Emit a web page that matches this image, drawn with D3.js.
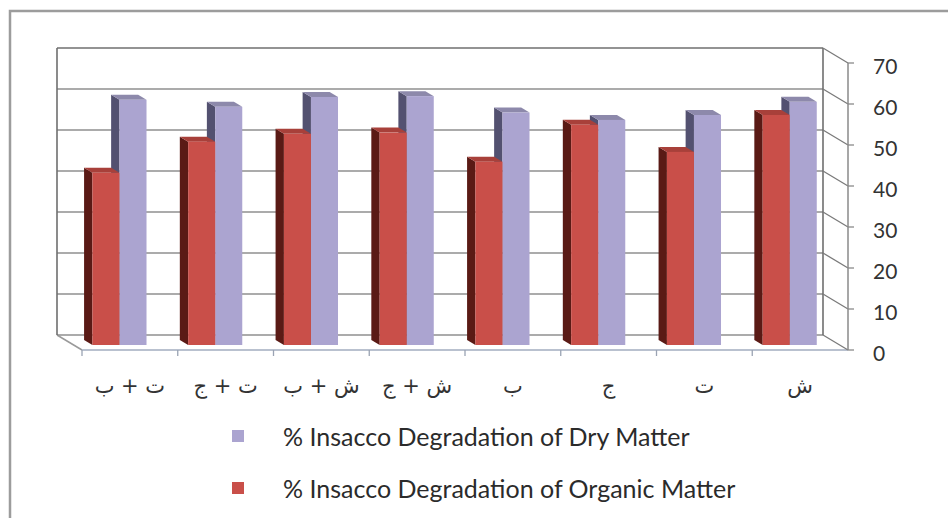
<!DOCTYPE html>
<html>
<head>
<meta charset="utf-8">
<script src="https://cdnjs.cloudflare.com/ajax/libs/d3/7.8.5/d3.min.js"></script>
<style>
  body { margin: 0; background: #ffffff; }
  svg { display: block; }
</style>
</head>
<body>
<svg id="chart" width="948" height="518"></svg>
<script>
// Treatments (category axis, Arabic labels)
const categories = ["ت + ب", "ت + ج", "ش + ب", "ش + ج", "ب", "ج", "ت", "ش"];
// % in-sacco degradation of dry matter
const dryMatter = [59.8, 58.1, 60.5, 60.7, 56.7, 54.9, 56.1, 59.3];
// % in-sacco degradation of organic matter
const organicMatter = [42.0, 49.6, 51.5, 51.8, 44.7, 53.7, 47.1, 56.1];
// Value axis ticks
const yTicks = [0, 10, 20, 30, 40, 50, 60, 70];
// Legend entries
const seriesNames = [
  "% Insacco Degradation of Dry Matter",
  "% Insacco Degradation of Organic Matter"
];

const svg = d3.select("#chart");

// Back wall extent and the oblique depth vector of the 3D box
const wall = { left: 57, right: 823, top: 48, bottom: 335 };
const depth = { dx: 25, dy: 15 };

const xCat = d3.scaleBand().domain(categories).range([wall.left, wall.right]);
const xSeries = d3.scaleBand().domain(["organic", "dry"])
  .range([0, xCat.bandwidth()]).paddingOuter(0.77).align(0.45);
const y = d3.scaleLinear().domain([0, 70]).range([wall.bottom, wall.top]);

// Project a point (x on the back wall, value, depth 0..1) onto the page
const proj = (X, v, z) => [X + z * depth.dx, y(v) + z * depth.dy];
const pts = arr => arr.map(p => p.join(",")).join(" ");

// Outer frame
svg.append("rect")
  .attr("x", 10).attr("y", 11).attr("width", 960).attr("height", 530)
  .attr("fill", "#ffffff").attr("stroke", "#9c9c9c").attr("stroke-width", 2.5);

const plot = svg.append("g");

// Floor
plot.append("polygon")
  .attr("points", pts([proj(wall.left, 0, 0), proj(wall.right, 0, 0),
                       proj(wall.right, 0, 1), proj(wall.left, 0, 1)]))
  .attr("fill", "#ffffff").attr("stroke", "none");
plot.append("line")
  .attr("x1", proj(wall.left, 0, 0)[0]).attr("y1", proj(wall.left, 0, 0)[1])
  .attr("x2", proj(wall.left, 0, 1)[0]).attr("y2", proj(wall.left, 0, 1)[1])
  .attr("stroke", "#9a9a9a").attr("stroke-width", 1.5);
plot.append("line")
  .attr("x1", proj(wall.left, 0, 1)[0]).attr("y1", proj(wall.left, 0, 1)[1])
  .attr("x2", proj(wall.right, 0, 1)[0]).attr("y2", proj(wall.right, 0, 1)[1])
  .attr("stroke", "#b9c1cf").attr("stroke-width", 2);

// Back wall gridlines
plot.selectAll("line.grid").data(yTicks).join("line")
  .attr("class", "grid")
  .attr("x1", wall.left).attr("x2", wall.right)
  .attr("y1", d => y(d)).attr("y2", d => y(d))
  .attr("stroke", d => d === 70 ? "#6f6f6f" : "#8f8f8f")
  .attr("stroke-width", 1.6);

// Back wall edges
plot.append("line")
  .attr("x1", wall.left).attr("x2", wall.left).attr("y1", y(70)).attr("y2", y(0))
  .attr("stroke", "#6f6f6f").attr("stroke-width", 1.6);
plot.append("line")
  .attr("x1", wall.right).attr("x2", wall.right).attr("y1", y(70)).attr("y2", y(0))
  .attr("stroke", "#6f6f6f").attr("stroke-width", 1.6);

// Side-wall gridlines running forward to the value axis
plot.selectAll("line.side").data(yTicks).join("line")
  .attr("class", "side")
  .attr("x1", d => proj(wall.right, d, 0)[0]).attr("y1", d => proj(wall.right, d, 0)[1])
  .attr("x2", d => proj(wall.right, d, 1)[0]).attr("y2", d => proj(wall.right, d, 1)[1])
  .attr("stroke", "#7a7a7a").attr("stroke-width", 1.3);

// Value axis line, ticks and labels
const axisX = proj(wall.right, 0, 1)[0];
plot.append("line")
  .attr("x1", axisX).attr("x2", axisX)
  .attr("y1", proj(wall.right, 70, 1)[1]).attr("y2", proj(wall.right, 0, 1)[1])
  .attr("stroke", "#8a8a8a").attr("stroke-width", 1.5);
plot.selectAll("line.ytick").data(yTicks).join("line")
  .attr("class", "ytick")
  .attr("x1", axisX).attr("x2", axisX + 6)
  .attr("y1", d => proj(wall.right, d, 1)[1]).attr("y2", d => proj(wall.right, d, 1)[1])
  .attr("stroke", "#8a8a8a").attr("stroke-width", 1.3);
plot.selectAll("text.ylab").data(yTicks).join("text")
  .attr("class", "ylab")
  .attr("x", axisX + 25)
  .attr("y", d => proj(wall.right, d, 1)[1] + 2)
  .attr("dominant-baseline", "central")
  .attr("font-family", "Lato, 'Open Sans', sans-serif")
  .attr("font-size", 21)
  .attr("fill", "#333333")
  .text(d => d);

// Category ticks along the front edge of the floor
const boundaries = categories.map(c => xCat(c));
plot.selectAll("line.xtick").data(boundaries).join("line")
  .attr("class", "xtick")
  .attr("x1", d => proj(d, 0, 1)[0]).attr("x2", d => proj(d, 0, 1)[0])
  .attr("y1", proj(0, 0, 1)[1]).attr("y2", proj(0, 0, 1)[1] + 6)
  .attr("stroke", "#9aa3b3").attr("stroke-width", 1.3);

// Category labels
plot.selectAll("text.xlab").data(categories).join("text")
  .attr("class", "xlab")
  .attr("x", d => proj(xCat(d) + xCat.bandwidth() / 2, 0, 1)[0])
  .attr("y", 393)
  .attr("text-anchor", "middle")
  .attr("font-family", "'DejaVu Sans', sans-serif")
  .attr("font-size", 21)
  .attr("fill", "#333333")
  .text(d => d);

// 3D columns: front, left side and top faces
const styles = {
  dry:     { front: "#aba4d0", side: "#535170", top: "#8d89ab" },
  organic: { front: "#c94f49", side: "#5a1a15", top: "#a8403a" }
};
const z0 = 1 / 3, z1 = 2 / 3;

function drawSeries(key, values) {
  const s = styles[key];
  const g = plot.append("g");
  const bars = categories.map((c, i) => ({ X0: xCat(c) + xSeries(key), X1: xCat(c) + xSeries(key) + xSeries.bandwidth(), v: values[i] }));
  g.selectAll("polygon.side").data(bars).join("polygon")
    .attr("points", b => pts([proj(b.X0, 0, z1), proj(b.X0, b.v, z1), proj(b.X0, b.v, z0), proj(b.X0, 0, z0)]))
    .attr("fill", s.side);
  g.selectAll("polygon.top").data(bars).join("polygon")
    .attr("points", b => pts([proj(b.X0, b.v, z1), proj(b.X1, b.v, z1), proj(b.X1, b.v, z0), proj(b.X0, b.v, z0)]))
    .attr("fill", s.top);
  g.selectAll("rect.front").data(bars).join("rect")
    .attr("x", b => proj(b.X0, b.v, z1)[0])
    .attr("y", b => proj(b.X0, b.v, z1)[1])
    .attr("width", b => b.X1 - b.X0)
    .attr("height", b => y(0) - y(b.v))
    .attr("fill", s.front);
}
drawSeries("dry", dryMatter);
drawSeries("organic", organicMatter);

// Legend
const legendColors = [styles.dry.front, styles.organic.front];
const legend = svg.append("g");
const rowY = [436, 488];
seriesNames.forEach((name, i) => {
  legend.append("rect")
    .attr("x", 232).attr("y", rowY[i] - 6).attr("width", 12).attr("height", 12)
    .attr("fill", legendColors[i]);
  legend.append("text")
    .attr("x", 283).attr("y", rowY[i])
    .attr("dominant-baseline", "central")
    .attr("font-family", "Lato, 'Open Sans', sans-serif")
    .attr("font-size", 25)
    .attr("fill", "#2b2b2b")
    .text(name);
});
</script>
</body>
</html>
